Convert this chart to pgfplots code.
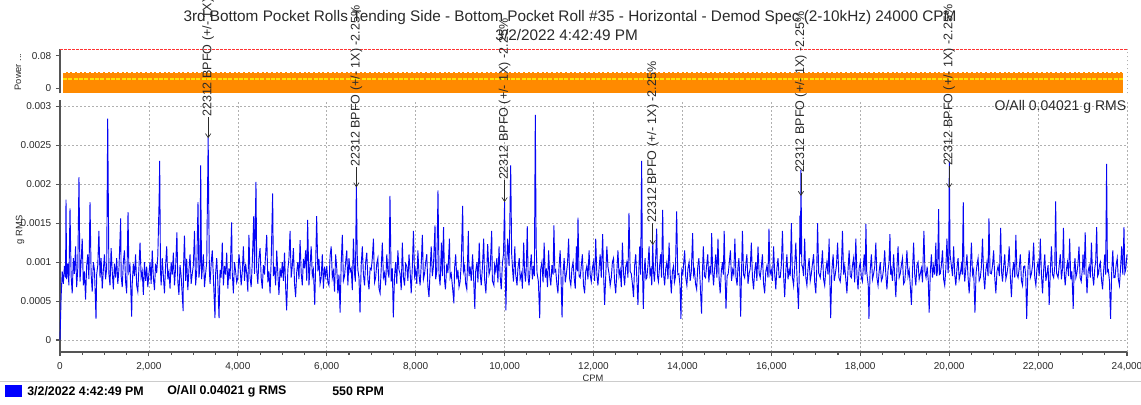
\documentclass[border=0pt]{standalone}
\usepackage{fontspec}
\setmainfont{Liberation Sans}
\usepackage{pgfplots}
\pgfplotsset{compat=1.18}
\usetikzlibrary{arrows.meta}
\definecolor{orng}{HTML}{FF8A00}
\definecolor{spine}{HTML}{555555}
\definecolor{gridc}{HTML}{B0B0B0}
\definecolor{txt}{HTML}{2A2A2A}
\definecolor{trace}{HTML}{0505F5}
\tikzset{gridline/.style={gridc, line width=0.5pt, dash pattern=on 1.2pt off 1.8pt}}
\newcommand{\annot}[3]{%
  \node[rotate=90, anchor=west, inner sep=0pt, text=txt, font=\fontsize{9.4}{10}\selectfont] at (axis cs:#1,#2) {22312 BPFO (+/- 1X) -2.25\%};
  \draw[txt, line width=0.5pt, -{Straight Barb[length=3pt,width=4pt]}] (axis cs:#1,#2) -- (axis cs:#1,#3);}
\begin{document}
\begin{tikzpicture}
\path[use as bounding box] (0,0) rectangle (855.75pt,303pt);
\clip (0,0) rectangle (855.75pt,303pt);
\fill[white] (0,0) rectangle (855.75pt,303pt);

% ---------- top (power) axis ----------
\begin{axis}[at={(45pt,232.9pt)}, anchor=south west, scale only axis,
  width=800.25pt, height=33.4pt,
  xmin=0, xmax=24000, ymin=-0.0135, ymax=0.0975,
  axis x line=none, axis y line*=left,
  axis line style={-, draw=spine, line width=1pt},
  ytick={0,0.08}, yticklabels={0,0.08}, scaled y ticks=false,
  tick align=outside, major tick length=3pt,
  every tick/.style={spine, line width=0.8pt},
  yticklabel style={font=\fontsize{7.5}{8}\selectfont, text=txt},
  clip=false]
  \addplot[draw=none, fill=orng] coordinates {(70,-0.0133) (70,0.041) (23909,0.041) (23909,-0.0133)} -- cycle;
  \addplot[draw=white, line width=0.5pt, dash pattern=on 2pt off 1.5pt] coordinates {(70,0.0395) (23909,0.0395)};
  \addplot[draw=yellow!85!orange, line width=1.1pt, dash pattern=on 3pt off 1pt] coordinates {(70,0.0225) (23909,0.0225)};
  \addplot[draw=red!80, line width=0.5pt, dash pattern=on 2pt off 1pt] coordinates {(0,0.0975) (24000,0.0975)};
  \draw[gridline] (axis cs:24000,-0.0135) -- (axis cs:24000,0.0975);
\end{axis}

% ---------- main spectrum axis ----------
\begin{axis}[at={(45pt,39pt)}, anchor=south west, scale only axis,
  width=800.25pt, height=189pt,
  xmin=0, xmax=24000, ymin=-0.000154, ymax=0.00308,
  axis x line*=bottom, axis y line*=left,
  axis line style={-, draw=spine, line width=1pt},
  xtick={0,2000,4000,6000,8000,10000,12000,14000,16000,18000,20000,22000,24000},
  xticklabels={0,{2,000},{4,000},{6,000},{8,000},{10,000},{12,000},{14,000},{16,000},{18,000},{20,000},{22,000},{24,000}},
  minor x tick num=3,
  ytick={0,0.0005,0.001,0.0015,0.002,0.0025,0.003},
  yticklabels={0,0.0005,0.001,0.0015,0.002,0.0025,0.003},
  scaled y ticks=false, scaled x ticks=false,
  tick align=outside, major tick length=3pt, minor tick length=2pt,
  every tick/.style={spine, line width=0.8pt},
  xmajorgrids, ymajorgrids,
  major grid style={gridline},
  xticklabel style={font=\fontsize{7.5}{8}\selectfont, text=txt, yshift=-1pt},
  yticklabel style={font=\fontsize{7.5}{8}\selectfont, text=txt},
  clip=false]
\addplot[trace, line width=0.7pt] coordinates {
(0,0) (25,0.00055) (50,0.00088) (75,0.00072) (100,0.00095) (125,0.00080) (135,0.00180) (150,0.00078) (175,0.00098) (200,0.00070) (225,0.00169) (250,0.00082) (275,0.00060) (300,0.00105) (325,0.00085) (350,0.00120) (375,0.00068) (400,0.00092) (427,0.00209) (450,0.00075) (475,0.00100) (500,0.00130) (525,0.00070) (550,0.00088) (575,0.00052) (600,0.00095) (625,0.00110) (650,0.00078) (675,0.00177) (700,0.00085) (725,0.00062) (750,0.00100) (775,0.00090) (810,0.00027) (825,0.00084) (850,0.00096) (875,0.00140) (900,0.00080) (925,0.00105) (950,0.00066) (975,0.00090)
(1000,0.00110) (1025,0.00078) (1050,0.00092) (1073,0.00284) (1100,0.00085) (1125,0.00070) (1150,0.00118) (1175,0.00088) (1200,0.00065) (1225,0.00098) (1250,0.00080) (1275,0.00105) (1300,0.00072) (1325,0.00090) (1365,0.00156) (1375,0.00082) (1400,0.00068) (1425,0.00100) (1450,0.00115) (1475,0.00075) (1500,0.00060) (1530,0.00164) (1550,0.00088) (1575,0.00095) (1612,0.00030) (1625,0.00072) (1650,0.00098) (1675,0.00082) (1700,0.00110) (1725,0.00070) (1750,0.00062) (1775,0.00092) (1800,0.00125) (1825,0.00080) (1850,0.00088) (1875,0.00058) (1900,0.00100) (1925,0.00076) (1950,0.00094) (1975,0.00068)
(2000,0.00085) (2025,0.00100) (2050,0.00072) (2075,0.00115) (2100,0.00080) (2125,0.00064) (2150,0.00098) (2175,0.00086) (2200,0.00108) (2230,0.00181) (2242,0.00230) (2260,0.00090) (2275,0.00070) (2300,0.00105) (2325,0.00082) (2350,0.00060) (2375,0.00095) (2400,0.00120) (2425,0.00078) (2450,0.00088) (2475,0.00066) (2500,0.00100) (2525,0.00084) (2550,0.00112) (2575,0.00070) (2600,0.00092) (2630,0.00138) (2650,0.00075) (2675,0.00058) (2700,0.00096) (2725,0.00082) (2770,0.00037) (2775,0.00088) (2800,0.00134) (2825,0.00076) (2850,0.00104) (2875,0.00064) (2900,0.00090) (2925,0.00110) (2950,0.00072) (2975,0.00085)
(3000,0.00096) (3025,0.00140) (3050,0.00070) (3075,0.00088) (3104,0.00177) (3125,0.00080) (3150,0.00095) (3164,0.00224) (3185,0.00078) (3200,0.00090) (3225,0.00110) (3250,0.00068) (3275,0.00085) (3300,0.00100) (3333,0.00260) (3345,0.00175) (3360,0.00090) (3375,0.00072) (3400,0.00098) (3425,0.00115) (3450,0.00080) (3486,0.00028) (3500,0.00085) (3525,0.00105) (3550,0.00075) (3577,0.00028) (3600,0.00090) (3625,0.00080) (3650,0.00125) (3675,0.00070) (3700,0.00095) (3725,0.00084) (3750,0.00112) (3775,0.00066) (3800,0.00092) (3825,0.00078) (3860,0.00151) (3875,0.00086) (3900,0.00060) (3925,0.00100) (3950,0.00088) (3975,0.00074)
(4000,0.00080) (4025,0.00110) (4050,0.00095) (4075,0.00070) (4100,0.00088) (4125,0.00120) (4150,0.00076) (4175,0.00098) (4200,0.00085) (4225,0.00062) (4250,0.00135) (4275,0.00080) (4300,0.00068) (4325,0.00100) (4358,0.00159) (4375,0.00085) (4408,0.00203) (4425,0.00090) (4450,0.00072) (4475,0.00105) (4500,0.00118) (4525,0.00080) (4550,0.00066) (4575,0.00096) (4600,0.00084) (4625,0.00110) (4650,0.00135) (4675,0.00074) (4700,0.00088) (4725,0.00060) (4750,0.00102) (4783,0.00188) (4800,0.00082) (4825,0.00094) (4850,0.00070) (4875,0.00115) (4900,0.00085) (4925,0.00058) (4950,0.00092) (4975,0.00080)
(5000,0.00100) (5025,0.00076) (5050,0.00112) (5075,0.00068) (5098,0.00038) (5125,0.00090) (5150,0.00105) (5175,0.00140) (5200,0.00080) (5225,0.00095) (5250,0.00118) (5275,0.00072) (5300,0.00055) (5325,0.00088) (5350,0.00100) (5375,0.00078) (5400,0.00128) (5425,0.00086) (5450,0.00070) (5475,0.00104) (5500,0.00092) (5525,0.00115) (5550,0.00076) (5570,0.00154) (5600,0.00070) (5625,0.00096) (5650,0.00120) (5675,0.00082) (5700,0.00090) (5730,0.00045) (5750,0.00095) (5773,0.00159) (5800,0.00088) (5825,0.00104) (5850,0.00072) (5875,0.00080) (5900,0.00110) (5925,0.00066) (5950,0.00094) (5975,0.00082)
(6000,0.00095) (6025,0.00074) (6050,0.00070) (6075,0.00108) (6100,0.00120) (6125,0.00080) (6150,0.00088) (6175,0.00062) (6200,0.00110) (6225,0.00092) (6250,0.00060) (6275,0.00084) (6300,0.00035) (6325,0.00098) (6350,0.00135) (6375,0.00076) (6400,0.00082) (6425,0.00100) (6450,0.00115) (6475,0.00070) (6500,0.00105) (6525,0.00088) (6550,0.00092) (6575,0.00064) (6600,0.00130) (6625,0.00085) (6645,0.00075) (6666,0.00200) (6685,0.00110) (6700,0.00090) (6725,0.00080) (6748,0.00035) (6775,0.00096) (6800,0.00120) (6825,0.00084) (6850,0.00070) (6875,0.00100) (6900,0.00112) (6925,0.00078) (6950,0.00065) (6975,0.00092)
(7000,0.00090) (7025,0.00105) (7050,0.00130) (7075,0.00074) (7100,0.00080) (7125,0.00098) (7150,0.00105) (7175,0.00066) (7200,0.00060) (7225,0.00092) (7250,0.00125) (7275,0.00080) (7300,0.00086) (7325,0.00070) (7350,0.00110) (7375,0.00088) (7400,0.00080) (7422,0.00185) (7450,0.00075) (7475,0.00092) (7497,0.00029) (7525,0.00082) (7550,0.00100) (7575,0.00072) (7600,0.00115) (7625,0.00090) (7650,0.00085) (7675,0.00064) (7700,0.00125) (7725,0.00080) (7750,0.00070) (7775,0.00098) (7800,0.00095) (7825,0.00076) (7850,0.00110) (7875,0.00088) (7900,0.00060) (7925,0.00094) (7950,0.00140) (7975,0.00082)
(8000,0.00090) (8025,0.00072) (8050,0.00115) (8075,0.00084) (8100,0.00070) (8125,0.00096) (8150,0.00135) (8175,0.00078) (8200,0.00085) (8225,0.00100) (8250,0.00110) (8275,0.00068) (8300,0.00055) (8325,0.00090) (8350,0.00120) (8375,0.00082) (8400,0.00095) (8435,0.00147) (8450,0.00078) (8475,0.00088) (8502,0.00192) (8525,0.00084) (8550,0.00070) (8580,0.00125) (8600,0.00082) (8627,0.00145) (8650,0.00076) (8670,0.00065) (8700,0.00098) (8725,0.00086) (8760,0.00130) (8775,0.00080) (8800,0.00085) (8825,0.00070) (8860,0.00047) (8875,0.00092) (8900,0.00110) (8925,0.00078) (8950,0.00090) (8975,0.00068)
(9000,0.00075) (9025,0.00098) (9057,0.00172) (9075,0.00088) (9100,0.00095) (9125,0.00072) (9150,0.00065) (9185,0.00140) (9200,0.00082) (9225,0.00094) (9250,0.00076) (9280,0.00110) (9300,0.00084) (9330,0.00040) (9350,0.00088) (9380,0.00100) (9400,0.00074) (9430,0.00125) (9450,0.00086) (9475,0.00070) (9500,0.00092) (9530,0.00130) (9550,0.00078) (9580,0.00060) (9600,0.00090) (9620,0.00123) (9650,0.00084) (9675,0.00090) (9710,0.00140) (9725,0.00076) (9760,0.00070) (9775,0.00096) (9800,0.00088) (9825,0.00105) (9850,0.00074) (9875,0.00120) (9900,0.00082) (9925,0.00065) (9950,0.00098) (9975,0.00110)
(10000,0.00177) (10015,0.00095) (10030,0.00038) (10050,0.00100) (10070,0.00130) (10100,0.00095) (10115,0.00140) (10137,0.00224) (10160,0.00110) (10180,0.00090) (10200,0.00075) (10230,0.00120) (10250,0.00084) (10280,0.00070) (10300,0.00092) (10330,0.00105) (10350,0.00078) (10380,0.00085) (10400,0.00066) (10430,0.00125) (10450,0.00088) (10470,0.00075) (10490,0.00096) (10510,0.00146) (10530,0.00080) (10550,0.00070) (10575,0.00092) (10600,0.00110) (10625,0.00078) (10650,0.00095) (10670,0.00082) (10691,0.00289) (10710,0.00120) (10730,0.00086) (10760,0.00075) (10790,0.00028) (10810,0.00090) (10840,0.00100) (10865,0.00074) (10890,0.00125) (10915,0.00080) (10940,0.00092) (10965,0.00068) (10990,0.00115)
(11015,0.00082) (11040,0.00070) (11065,0.00096) (11090,0.00084) (11110,0.00147) (11130,0.00088) (11150,0.00090) (11175,0.00072) (11200,0.00060) (11225,0.00094) (11250,0.00115) (11270,0.00080) (11292,0.00029) (11315,0.00086) (11340,0.00105) (11365,0.00074) (11390,0.00085) (11415,0.00098) (11440,0.00130) (11465,0.00078) (11490,0.00070) (11515,0.00092) (11540,0.00100) (11565,0.00080) (11590,0.00066) (11615,0.00120) (11635,0.00088) (11651,0.00157) (11675,0.00082) (11700,0.00080) (11725,0.00095) (11750,0.00110) (11775,0.00070) (11800,0.00060) (11825,0.00088) (11850,0.00095) (11875,0.00078) (11900,0.00115) (11925,0.00084) (11950,0.00075) (11975,0.00092)
(12000,0.00100) (12025,0.00076) (12050,0.00130) (12075,0.00084) (12100,0.00070) (12125,0.00092) (12150,0.00110) (12175,0.00080) (12206,0.00136) (12225,0.00088) (12250,0.00045) (12275,0.00082) (12300,0.00120) (12325,0.00094) (12350,0.00085) (12375,0.00070) (12400,0.00080) (12425,0.00100) (12450,0.00105) (12475,0.00074) (12500,0.00060) (12525,0.00088) (12550,0.00115) (12575,0.00082) (12600,0.00090) (12625,0.00068) (12650,0.00125) (12675,0.00086) (12700,0.00070) (12725,0.00094) (12750,0.00100) (12775,0.00080) (12798,0.00163) (12825,0.00088) (12850,0.00085) (12875,0.00072) (12900,0.00055) (12925,0.00096) (12950,0.00110) (12975,0.00078)
(13000,0.00045) (13020,0.00090) (13040,0.00120) (13060,0.00084) (13083,0.00230) (13100,0.00095) (13120,0.00040) (13140,0.00088) (13160,0.00105) (13180,0.00078) (13200,0.00080) (13225,0.00096) (13250,0.00120) (13270,0.00084) (13290,0.00090) (13310,0.00070) (13333,0.00124) (13350,0.00088) (13370,0.00075) (13395,0.00100) (13421,0.00143) (13440,0.00082) (13460,0.00075) (13485,0.00094) (13510,0.00110) (13530,0.00080) (13556,0.00167) (13575,0.00086) (13600,0.00070) (13625,0.00092) (13650,0.00100) (13675,0.00078) (13700,0.00125) (13725,0.00084) (13750,0.00060) (13775,0.00088) (13800,0.00095) (13820,0.00074) (13840,0.00080) (13870,0.00165) (13895,0.00084) (13920,0.00085) (13945,0.00070) (13967,0.00027) (13985,0.00090)
(14010,0.00085) (14030,0.00100) (14050,0.00115) (14075,0.00080) (14100,0.00070) (14125,0.00092) (14150,0.00100) (14175,0.00076) (14200,0.00088) (14230,0.00137) (14250,0.00084) (14270,0.00090) (14295,0.00072) (14320,0.00065) (14345,0.00094) (14370,0.00105) (14395,0.00078) (14430,0.00034) (14450,0.00086) (14470,0.00120) (14495,0.00082) (14520,0.00080) (14545,0.00096) (14570,0.00110) (14595,0.00074) (14620,0.00095) (14640,0.00084) (14658,0.00137) (14680,0.00088) (14700,0.00070) (14725,0.00092) (14750,0.00110) (14775,0.00080) (14800,0.00130) (14825,0.00078) (14850,0.00060) (14875,0.00088) (14900,0.00100) (14920,0.00084) (14940,0.00140) (14960,0.00082) (14980,0.00040)
(15005,0.00082) (15030,0.00085) (15055,0.00100) (15080,0.00115) (15105,0.00076) (15130,0.00090) (15155,0.00084) (15180,0.00130) (15205,0.00080) (15230,0.00070) (15250,0.00094) (15270,0.00105) (15290,0.00080) (15310,0.00030) (15330,0.00088) (15350,0.00140) (15375,0.00084) (15400,0.00080) (15425,0.00096) (15450,0.00110) (15475,0.00072) (15500,0.00085) (15525,0.00092) (15550,0.00125) (15575,0.00080) (15600,0.00065) (15625,0.00088) (15650,0.00100) (15675,0.00076) (15700,0.00120) (15725,0.00086) (15750,0.00080) (15775,0.00094) (15800,0.00110) (15825,0.00072) (15850,0.00060) (15875,0.00088) (15900,0.00095) (15925,0.00080) (15947,0.00143) (15970,0.00084)
(16000,0.00090) (16025,0.00076) (16050,0.00120) (16075,0.00086) (16100,0.00065) (16125,0.00092) (16150,0.00105) (16175,0.00080) (16200,0.00080) (16225,0.00096) (16250,0.00140) (16275,0.00084) (16300,0.00055) (16325,0.00088) (16350,0.00110) (16375,0.00078) (16400,0.00090) (16425,0.00082) (16450,0.00150) (16475,0.00080) (16500,0.00070) (16525,0.00094) (16550,0.00125) (16575,0.00084) (16610,0.00040) (16630,0.00090) (16644,0.00160) (16655,0.00110) (16666,0.00218) (16685,0.00095) (16700,0.00095) (16725,0.00082) (16750,0.00130) (16775,0.00080) (16800,0.00070) (16825,0.00092) (16850,0.00105) (16875,0.00076) (16900,0.00085) (16925,0.00098) (16950,0.00110) (16975,0.00074)
(17000,0.00060) (17020,0.00088) (17040,0.00150) (17065,0.00086) (17100,0.00080) (17125,0.00094) (17150,0.00115) (17175,0.00078) (17200,0.00070) (17225,0.00090) (17250,0.00100) (17275,0.00084) (17300,0.00130) (17315,0.00080) (17335,0.00028) (17360,0.00088) (17390,0.00110) (17415,0.00076) (17440,0.00085) (17465,0.00096) (17490,0.00125) (17520,0.00080) (17550,0.00075) (17575,0.00092) (17600,0.00140) (17625,0.00084) (17650,0.00095) (17675,0.00078) (17700,0.00060) (17725,0.00090) (17750,0.00115) (17775,0.00082) (17800,0.00080) (17825,0.00096) (17850,0.00105) (17875,0.00074) (17900,0.00130) (17925,0.00084) (17950,0.00065) (17975,0.00092)
(18000,0.00100) (18025,0.00080) (18050,0.00075) (18070,0.00096) (18090,0.00110) (18110,0.00084) (18128,0.00149) (18145,0.00088) (18160,0.00080) (18180,0.00070) (18196,0.00027) (18220,0.00086) (18250,0.00110) (18275,0.00078) (18300,0.00085) (18325,0.00094) (18350,0.00125) (18375,0.00080) (18400,0.00070) (18425,0.00088) (18450,0.00100) (18475,0.00076) (18500,0.00080) (18525,0.00092) (18550,0.00115) (18575,0.00084) (18600,0.00065) (18625,0.00090) (18645,0.00098) (18668,0.00136) (18685,0.00084) (18700,0.00090) (18725,0.00076) (18750,0.00110) (18775,0.00082) (18800,0.00055) (18825,0.00092) (18850,0.00120) (18875,0.00080) (18900,0.00085) (18925,0.00096) (18950,0.00105) (18975,0.00072)
(19000,0.00075) (19025,0.00092) (19050,0.00115) (19075,0.00082) (19100,0.00090) (19125,0.00070) (19150,0.00045) (19175,0.00088) (19200,0.00125) (19225,0.00084) (19250,0.00070) (19275,0.00096) (19300,0.00100) (19325,0.00078) (19350,0.00085) (19375,0.00092) (19400,0.00074) (19432,0.00140) (19455,0.00088) (19480,0.00080) (19505,0.00094) (19530,0.00076) (19550,0.00035) (19575,0.00086) (19600,0.00110) (19625,0.00080) (19650,0.00095) (19675,0.00084) (19700,0.00125) (19720,0.00082) (19740,0.00090) (19763,0.00168) (19780,0.00084) (19800,0.00085) (19825,0.00096) (19850,0.00115) (19875,0.00078) (19900,0.00070) (19925,0.00092) (19950,0.00130) (19975,0.00086) (19990,0.00100)
(20003,0.00229) (20020,0.00110) (20050,0.00095) (20075,0.00082) (20100,0.00120) (20125,0.00084) (20150,0.00070) (20175,0.00092) (20200,0.00105) (20225,0.00078) (20250,0.00085) (20275,0.00096) (20295,0.00084) (20317,0.00177) (20335,0.00088) (20350,0.00075) (20375,0.00092) (20400,0.00110) (20425,0.00080) (20450,0.00060) (20475,0.00088) (20500,0.00125) (20525,0.00084) (20550,0.00090) (20580,0.00035) (20605,0.00086) (20625,0.00096) (20650,0.00105) (20675,0.00076) (20700,0.00080) (20725,0.00094) (20750,0.00130) (20775,0.00082) (20800,0.00065) (20825,0.00090) (20850,0.00100) (20875,0.00082) (20895,0.00156) (20920,0.00086) (20950,0.00085) (20975,0.00096)
(21000,0.00115) (21025,0.00080) (21050,0.00060) (21075,0.00088) (21100,0.00095) (21130,0.00082) (21158,0.00144) (21180,0.00086) (21200,0.00075) (21225,0.00094) (21250,0.00110) (21275,0.00078) (21300,0.00085) (21325,0.00096) (21350,0.00120) (21375,0.00082) (21400,0.00055) (21425,0.00088) (21450,0.00100) (21475,0.00080) (21500,0.00135) (21525,0.00084) (21550,0.00080) (21575,0.00092) (21600,0.00110) (21625,0.00076) (21650,0.00070) (21675,0.00094) (21700,0.00095) (21722,0.00082) (21744,0.00027) (21770,0.00088) (21800,0.00115) (21825,0.00080) (21850,0.00085) (21875,0.00096) (21900,0.00125) (21925,0.00080) (21950,0.00070) (21975,0.00092)
(22000,0.00100) (22025,0.00082) (22050,0.00130) (22075,0.00084) (22100,0.00060) (22125,0.00090) (22150,0.00110) (22175,0.00076) (22200,0.00085) (22225,0.00096) (22250,0.00045) (22275,0.00088) (22300,0.00120) (22325,0.00084) (22350,0.00080) (22375,0.00094) (22395,0.00178) (22415,0.00086) (22450,0.00080) (22475,0.00096) (22500,0.00110) (22525,0.00078) (22550,0.00092) (22571,0.00144) (22590,0.00084) (22610,0.00070) (22635,0.00090) (22660,0.00100) (22685,0.00082) (22710,0.00130) (22735,0.00078) (22760,0.00088) (22790,0.00040) (22810,0.00092) (22830,0.00105) (22850,0.00080) (22870,0.00085) (22895,0.00096) (22920,0.00120) (22945,0.00080) (22970,0.00075)
(23000,0.00094) (23010,0.00110) (23035,0.00084) (23060,0.00138) (23080,0.00086) (23100,0.00060) (23125,0.00088) (23150,0.00095) (23175,0.00080) (23200,0.00125) (23225,0.00084) (23250,0.00070) (23275,0.00092) (23295,0.00100) (23318,0.00145) (23340,0.00082) (23360,0.00085) (23380,0.00096) (23400,0.00100) (23425,0.00078) (23450,0.00065) (23475,0.00090) (23500,0.00110) (23520,0.00084) (23541,0.00226) (23560,0.00088) (23580,0.00090) (23605,0.00076) (23630,0.00027) (23655,0.00086) (23680,0.00115) (23705,0.00080) (23730,0.00080) (23755,0.00096) (23780,0.00105) (23805,0.00078) (23830,0.00070) (23855,0.00092) (23880,0.00120) (23905,0.00084) (23932,0.00145) (23950,0.00086) (23970,0.00090) (23985,0.00100) (24000,0.00110)
};
\annot{3333}{0.00286}{0.00259}
\annot{6666}{0.00222}{0.00196}
\annot{10000}{0.00205}{0.00177}
\annot{13333}{0.00150}{0.00122}
\annot{16666}{0.00214}{0.00185}
\annot{20000}{0.00223}{0.00195}
\node[anchor=east, inner sep=0pt, text=txt, font=\fontsize{10.5}{11}\selectfont] at (rel axis cs:0.9995,0.972) {O/All 0.04021 g RMS};
\end{axis}

% ---------- titles and labels ----------
\node[text=txt, font=\fontsize{11.5}{12}\selectfont, inner sep=0pt] at (427.5pt,289.5pt) {3rd Bottom Pocket Rolls Tending Side - Bottom Pocket Roll \#35 - Horizontal - Demod Spec (2-10kHz) 24000 CPM};
\node[text=txt, font=\fontsize{11.5}{12}\selectfont, inner sep=0pt] at (425pt,276.75pt) {3/2/2022 4:42:49 PM};
\node[rotate=90, text=txt, font=\fontsize{7}{8}\selectfont, inner sep=0pt] at (13.5pt,249pt) {Power ...};
\node[rotate=90, text=txt, font=\fontsize{7}{8}\selectfont, inner sep=0pt] at (15pt,130.5pt) {g RMS};
\node[text=txt, font=\fontsize{7}{8}\selectfont, inner sep=0pt] at (444.75pt,19.5pt) {CPM};

% ---------- legend strip ----------
\draw[gray!40, line width=0.8pt] (0,16.6pt) -- (855.75pt,16.6pt);
\fill[blue] (3.75pt,5.25pt) rectangle (16.5pt,14.25pt);
\node[anchor=west, inner sep=0pt, text=black, font=\bfseries\fontsize{9.3}{10}\selectfont] at (20.25pt,9.75pt) {3/2/2022 4:42:49 PM};
\node[anchor=west, inner sep=0pt, text=black, font=\bfseries\fontsize{9.3}{10}\selectfont] at (125.25pt,9.75pt) {O/All 0.04021 g RMS};
\node[anchor=west, inner sep=0pt, text=black, font=\bfseries\fontsize{9.3}{10}\selectfont] at (249pt,9.75pt) {550 RPM};
\end{tikzpicture}
\end{document}
